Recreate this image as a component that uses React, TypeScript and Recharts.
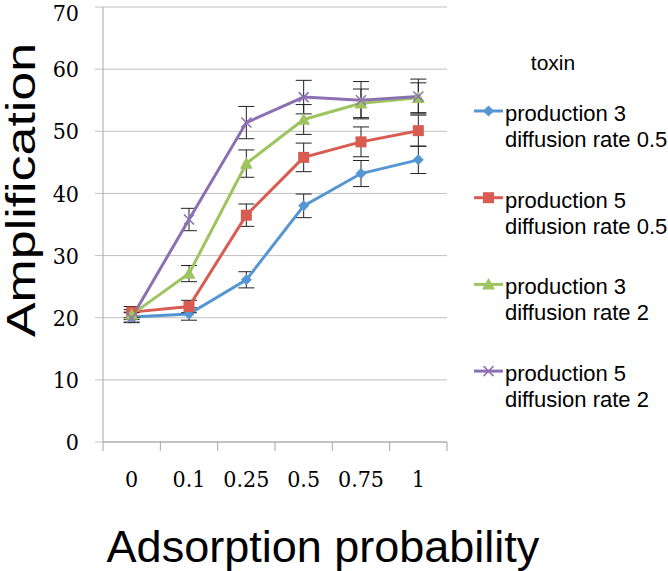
import React from 'react';
import { LineChart, Line, XAxis, YAxis, CartesianGrid, ErrorBar, Legend } from 'recharts';

const categories = ['0', '0.1', '0.25', '0.5', '0.75', '1'];
const p3d05 = [20.1, 20.6, 26.1, 38.0, 43.2, 45.4];
const p3d05Err = [0.8, 1.0, 1.3, 1.9, 2.1, 2.2];
const p5d05 = [20.9, 21.8, 36.5, 45.8, 48.3, 50.1];
const p5d05Err = [0.9, 1.0, 1.8, 2.3, 2.4, 2.5];
const p3d2 = [20.5, 27.1, 44.8, 51.9, 54.5, 55.4];
const p3d2Err = [0.8, 1.3, 2.2, 2.4, 2.3, 2.4];
const p5d2 = [20.0, 35.8, 51.4, 55.5, 55.0, 55.6];
const p5d2Err = [0.8, 1.8, 2.6, 2.7, 3.0, 2.8];
const yTicks = [0, 10, 20, 30, 40, 50, 60, 70];

const seriesNames = [
  ['production 3', 'diffusion rate 0.5'],
  ['production 5', 'diffusion rate 0.5'],
  ['production 3', 'diffusion rate 2'],
  ['production 5', 'diffusion rate 2'],
];
const seriesKeys = ['s1', 's2', 's3', 's4'];
const seriesColors = ['#5596d2', '#d85c52', '#9dc45e', '#8c70b4'];
const seriesShapes = ['diamond', 'square', 'triangle', 'cross'];

const values = [p3d05, p5d05, p3d2, p5d2];
const errors = [p3d05Err, p5d05Err, p3d2Err, p5d2Err];

const data = categories.map((c, i) => {
  const row: any = { cat: c };
  seriesKeys.forEach((k, s) => {
    row[k] = values[s][i];
    row[k + 'e'] = errors[s][i];
  });
  return row;
});

const tickFont = "'DejaVu Serif Condensed', 'DejaVu Serif', serif";

function Marker({ shape, cx, cy, color }: any) {
  if (cx == null || cy == null) return null;
  if (shape === 'diamond') {
    const r = 5.5;
    return <path d={`M${cx},${cy - r}L${cx + r},${cy}L${cx},${cy + r}L${cx - r},${cy}Z`} fill={color} />;
  }
  if (shape === 'square') {
    const r = 5.5;
    return <rect x={cx - r} y={cy - r} width={2 * r} height={2 * r} fill={color} />;
  }
  if (shape === 'triangle') {
    const r = 6.5;
    return <path d={`M${cx},${cy - r}L${cx + r},${cy + r * 0.8}L${cx - r},${cy + r * 0.8}Z`} fill={color} />;
  }
  const r = 5;
  return (
    <path d={`M${cx - r},${cy - r}L${cx + r},${cy + r}M${cx - r},${cy + r}L${cx + r},${cy - r}`} stroke={color} strokeWidth={1.5} fill="none" />
  );
}

const XTick = (props: any) => {
  const { x, y, payload, index } = props;
  const off = payload && payload.offset != null ? payload.offset : 0;
  const last = index === categories.length - 1;
  return (
    <g>
      <line x1={x - off} x2={x - off} y1={y} y2={y + 9} stroke="#a6a6a6" strokeWidth={1} />
      {last && <line x1={x + off} x2={x + off} y1={y} y2={y + 9} stroke="#a6a6a6" strokeWidth={1} />}
      <text x={x} y={y + 45} textAnchor="middle" fontSize={23} fontFamily={tickFont} fill="#000">
        {payload.value}
      </text>
    </g>
  );
};

const LegendContent = () => {
  const ox = 460;
  return (
    <svg width={208} height={420} style={{ display: 'block' }}>
      <text x={553 - ox} y={70} textAnchor="middle" fontSize={21} fontFamily="Liberation Sans, Arial" fill="#000">
        toxin
      </text>
      {seriesKeys.map((k, i) => {
        const base = 121 + i * 86.7;
        return (
          <g key={k}>
            <line x1={474 - ox} x2={503 - ox} y1={base - 10} y2={base - 10} stroke={seriesColors[i]} strokeWidth={3} />
            <Marker shape={seriesShapes[i]} cx={488.5 - ox} cy={base - 10} color={seriesColors[i]} />
            <text x={505 - ox} y={base} fontSize={22} fontFamily="Liberation Sans, Arial" fill="#000">
              {seriesNames[i][0]}
            </text>
            <text x={505 - ox} y={base + 26} fontSize={22} fontFamily="Liberation Sans, Arial" fill="#000">
              {seriesNames[i][1]}
            </text>
          </g>
        );
      })}
    </svg>
  );
};

export default function App() {
  return (
    <div style={{ position: 'absolute', left: 0, top: 0, width: 668, height: 571, background: '#fff' }}>
      <LineChart width={668} height={571} data={data} margin={{ top: 7, right: 221, bottom: 0, left: 0 }}>
        <CartesianGrid vertical={false} stroke="#c0c0c0" strokeWidth={1} />
        <XAxis
          dataKey="cat"
          scale="band"
          height={129}
          axisLine={{ stroke: '#a6a6a6' }}
          tickLine={false}
          tickSize={0}
          tickMargin={0}
          interval={0}
          tick={<XTick />}
          label={{
            content: () => (
              <text x={323} y={562} textAnchor="middle" fontSize={45} fontFamily="Liberation Sans, Arial" fill="#000">
                Adsorption probability
              </text>
            ),
          }}
        />
        <YAxis
          type="number"
          domain={[0, 70]}
          ticks={yTicks}
          width={103}
          axisLine={{ stroke: '#a6a6a6' }}
          tickLine={{ stroke: '#c0c0c0' }}
          tickSize={8}
          tickMargin={16}
          tick={{ fontSize: 23, fontFamily: tickFont, fill: '#000' }}
          label={{
            content: () => (
              <text
                transform="translate(35,190) rotate(-90)"
                textAnchor="middle"
                fontSize={40}
                textLength={294}
                lengthAdjust="spacingAndGlyphs"
                fontFamily="Liberation Sans, Arial"
                fill="#000"
              >
                Amplification
              </text>
            ),
          }}
        />
        <Legend
          layout="horizontal"
          verticalAlign="middle"
          align="center"
          content={<LegendContent />}
          wrapperStyle={{ position: 'absolute', left: 460, top: 0, width: 208, height: 420 }}
        />
        {seriesKeys.map((k, i) => (
          <Line
            key={k}
            dataKey={k}
            name={seriesNames[i].join(' ')}
            stroke={seriesColors[i]}
            strokeWidth={3}
            isAnimationActive={false}
            dot={(p: any) => <Marker key={`${k}-${p.index}`} shape={seriesShapes[i]} cx={p.cx} cy={p.cy} color={seriesColors[i]} />}
            activeDot={false}
          >
            <ErrorBar dataKey={k + 'e'} width={8} stroke="#222" strokeWidth={1} direction="y" isAnimationActive={false} />
          </Line>
        ))}
      </LineChart>
    </div>
  );
}
